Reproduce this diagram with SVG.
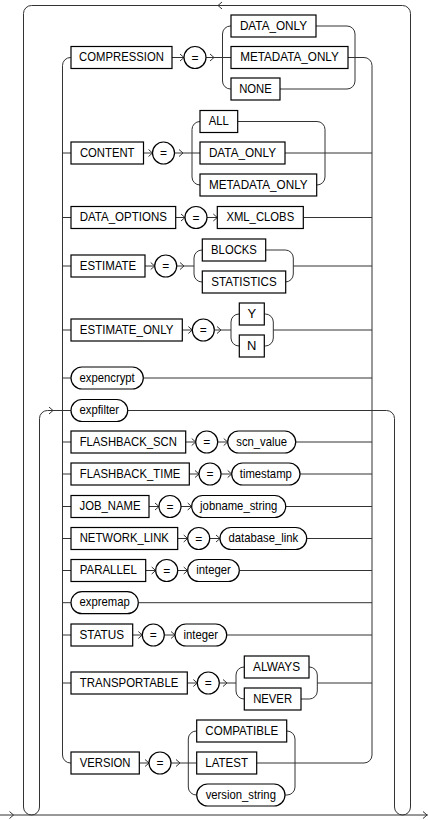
<svg xmlns="http://www.w3.org/2000/svg" xmlns:xlink="http://www.w3.org/1999/xlink" width="428" height="820" viewBox="0 0 428 820">
<style>
.c path,.c use{fill:none;stroke:#333;stroke-width:1}
.n rect,.n circle{fill:#fff;stroke:#000;stroke-width:1.2}
.n text{font-family:"Liberation Sans",Arial,sans-serif;font-size:13px;fill:#000;text-anchor:middle}
.n text.e{font-size:12px}
</style>
<defs>
<path id="a" d="M-4 -3.5L0 0L-4 3.5"/>
</defs>
<rect width="428" height="820" fill="#fff"/>
<g id="connectors" class="c">
<path d="M0 815H428"/>
<path d="M71 410.5H47.5A8 8 0 0 0 39.5 418.5V807A8 8 0 0 1 23.5 807V13.5A8 8 0 0 1 31.5 5.5H402.5A8 8 0 0 1 410.5 13.5V807A8 8 0 0 1 394.5 807V418.5A8 8 0 0 0 386.5 410.5H127.7"/>
<path d="M222 2L218 5.5L222 9"/>
<path d="M71 57.5H70.5A8 8 0 0 0 62.5 65.5V755A8 8 0 0 0 70.5 763H71"/>
<path d="M62.5 153H71M62.5 217.5H71M62.5 266H71M62.5 330H71M62.5 378H71M62.5 442H71M62.5 474H71M62.5 506.5H71M62.5 538.5H71M62.5 570.5H71M62.5 602.7H71M62.5 635H71M62.5 683H71"/>
<path d="M348 57.5H364A8 8 0 0 1 372 65.5V755A8 8 0 0 1 364 763H256.7"/>
<path d="M172 57.5H184M206 57.5H231M231 26H230.5A8 8 0 0 0 222.5 34V81A8 8 0 0 0 230.5 89H231M316 26H347A8 8 0 0 1 355 34V81A8 8 0 0 1 347 89H280"/>
<path d="M143.5 153H152.5M174.5 153H200M200 121.5A8 8 0 0 0 192 129.5V177A8 8 0 0 0 200 185M237.7 121.5H317A8 8 0 0 1 325 129.5V177A8 8 0 0 1 317 185H316.7M285 153H372"/>
<path d="M175.7 217.5H185M207 217.5H217.3M303.3 217.5H372"/>
<path d="M145 266H154.7M176.7 266H194M202.3 250H202A8 8 0 0 0 194 258V274A8 8 0 0 0 202 282H202.3M265.7 250H285.3A8 8 0 0 1 293.3 258V274A8 8 0 0 1 285.3 282H285.7M293.3 266H372"/>
<path d="M182.3 330H192.3M214.3 330H231M239.3 314H239A8 8 0 0 0 231 322V338A8 8 0 0 0 239 346H239.3M264.3 314H265.3A8 8 0 0 1 273.3 322V338A8 8 0 0 1 265.3 346H264.3M273.3 330H372"/>
<path d="M143.3 378H372"/>
<path d="M185.7 442H195.7M217.7 442H227.7M295.7 442H372"/>
<path d="M189.3 474H199M221 474H231.7M300 474H372"/>
<path d="M149 506.5H159M181 506.5H191.7M285.7 506.5H372"/>
<path d="M177.7 538.5H187.7M209.7 538.5H220M306.7 538.5H372"/>
<path d="M145.7 570.5H155.7M177.7 570.5H187.7M239.3 570.5H372"/>
<path d="M138.3 602.7H372"/>
<path d="M132.7 635H142.3M164.3 635H175M226.7 635H372"/>
<path d="M187.3 683H197.3M219.3 683H236M244.3 667H244A8 8 0 0 0 236 675V691A8 8 0 0 0 244 699H244.3M309 667H309.3A8 8 0 0 1 317.3 675V691A8 8 0 0 1 309.3 699H301M317.3 683H372"/>
<path d="M139.3 763H149M171 763H196.7M196.7 731H196.3A8 8 0 0 0 188.3 739V787A8 8 0 0 0 196.3 795H196.7M286.7 731H287A8 8 0 0 1 295 739V787A8 8 0 0 1 287 795H285"/>
<use xlink:href="#a" x="13.5" y="815"/>
<use xlink:href="#a" x="427" y="815"/>
<use xlink:href="#a" x="53" y="410.5"/>
<use xlink:href="#a" x="184" y="57.5"/><use xlink:href="#a" x="214" y="57.5"/>
<use xlink:href="#a" x="152.5" y="153"/><use xlink:href="#a" x="183" y="153"/>
<use xlink:href="#a" x="185" y="217.5"/><use xlink:href="#a" x="217.3" y="217.5"/>
<use xlink:href="#a" x="154.7" y="266"/><use xlink:href="#a" x="184" y="266"/>
<use xlink:href="#a" x="192.3" y="330"/><use xlink:href="#a" x="221" y="330"/>
<use xlink:href="#a" x="195.7" y="442"/><use xlink:href="#a" x="227.7" y="442"/>
<use xlink:href="#a" x="199" y="474"/><use xlink:href="#a" x="231.7" y="474"/>
<use xlink:href="#a" x="159" y="506.5"/><use xlink:href="#a" x="191.7" y="506.5"/>
<use xlink:href="#a" x="187.7" y="538.5"/><use xlink:href="#a" x="220" y="538.5"/>
<use xlink:href="#a" x="155.7" y="570.5"/><use xlink:href="#a" x="187.7" y="570.5"/>
<use xlink:href="#a" x="142.3" y="635"/><use xlink:href="#a" x="175" y="635"/>
<use xlink:href="#a" x="197.3" y="683"/><use xlink:href="#a" x="227" y="683"/>
<use xlink:href="#a" x="149" y="763"/><use xlink:href="#a" x="180" y="763"/>
</g>
<g class="n">
<g id="compression"><rect x="71" y="46.5" width="101" height="22"/><text x="121.5" y="61" textLength="84.8" lengthAdjust="spacingAndGlyphs">COMPRESSION</text></g>
<g id="eq1"><circle cx="195" cy="57.5" r="11"/><text class="e" x="195" y="61.5">=</text></g>
<g id="comp_data_only"><rect x="231" y="15" width="85" height="22"/><text x="273.5" y="29.5" textLength="67.2" lengthAdjust="spacingAndGlyphs">DATA_ONLY</text></g>
<g id="comp_metadata_only"><rect x="231" y="46.5" width="117" height="22"/><text x="289.5" y="61" textLength="98.6" lengthAdjust="spacingAndGlyphs">METADATA_ONLY</text></g>
<g id="comp_none"><rect x="231" y="78" width="49" height="22"/><text x="255.5" y="92.5" textLength="32.6" lengthAdjust="spacingAndGlyphs">NONE</text></g>

<g id="content"><rect x="71" y="142" width="72.5" height="22"/><text x="107.2" y="156.5" textLength="54.6" lengthAdjust="spacingAndGlyphs">CONTENT</text></g>
<g id="eq2"><circle cx="163.5" cy="153" r="11"/><text class="e" x="163.5" y="157">=</text></g>
<g id="cont_all"><rect x="200" y="110.5" width="37.7" height="22"/><text x="218.8" y="125" textLength="20.1" lengthAdjust="spacingAndGlyphs">ALL</text></g>
<g id="cont_data_only"><rect x="200" y="142" width="85" height="22"/><text x="242.5" y="156.5" textLength="67.2" lengthAdjust="spacingAndGlyphs">DATA_ONLY</text></g>
<g id="cont_metadata_only"><rect x="200" y="174" width="116.7" height="22"/><text x="258.3" y="188.5" textLength="98.6" lengthAdjust="spacingAndGlyphs">METADATA_ONLY</text></g>

<g id="data_options"><rect x="71" y="206.5" width="104.7" height="22"/><text x="123.3" y="221" textLength="87.3" lengthAdjust="spacingAndGlyphs">DATA_OPTIONS</text></g>
<g id="eq3"><circle cx="196" cy="217.5" r="11"/><text class="e" x="196" y="221.5">=</text></g>
<g id="xml_clobs"><rect x="217.3" y="206.5" width="86" height="22"/><text x="260.3" y="221" textLength="67.8" lengthAdjust="spacingAndGlyphs">XML_CLOBS</text></g>

<g id="estimate"><rect x="71" y="255" width="74" height="22"/><text x="108" y="269.5" textLength="56.5" lengthAdjust="spacingAndGlyphs">ESTIMATE</text></g>
<g id="eq4"><circle cx="165.7" cy="266" r="11"/><text class="e" x="165.7" y="270">=</text></g>
<g id="blocks"><rect x="202.3" y="239" width="63.4" height="22"/><text x="234" y="253.5" textLength="45.8" lengthAdjust="spacingAndGlyphs">BLOCKS</text></g>
<g id="statistics"><rect x="202.3" y="271" width="83.4" height="22"/><text x="244" y="285.5" textLength="65.3" lengthAdjust="spacingAndGlyphs">STATISTICS</text></g>

<g id="estimate_only"><rect x="71" y="319" width="111.3" height="22"/><text x="126.6" y="333.5" textLength="93.6" lengthAdjust="spacingAndGlyphs">ESTIMATE_ONLY</text></g>
<g id="eq5"><circle cx="203.3" cy="330" r="11"/><text class="e" x="203.3" y="334">=</text></g>
<g id="y"><rect x="239.3" y="303" width="25" height="22"/><text x="251.8" y="317.5">Y</text></g>
<g id="n"><rect x="239.3" y="335" width="25" height="22"/><text x="251.8" y="349.5">N</text></g>

<g id="expencrypt"><rect x="71" y="367" width="72.3" height="22" rx="11"/><text x="107.1" y="381.5" textLength="55.3" lengthAdjust="spacingAndGlyphs">expencrypt</text></g>
<g id="expfilter"><rect x="71" y="399.5" width="56.7" height="22" rx="11"/><text x="99.3" y="414" textLength="39.6" lengthAdjust="spacingAndGlyphs">expfilter</text></g>

<g id="flashback_scn"><rect x="71" y="431" width="114.7" height="22"/><text x="128.3" y="445.5" textLength="97.3" lengthAdjust="spacingAndGlyphs">FLASHBACK_SCN</text></g>
<g id="eq6"><circle cx="206.7" cy="442" r="11"/><text class="e" x="206.7" y="446">=</text></g>
<g id="scn_value"><rect x="227.7" y="431" width="68" height="22" rx="11"/><text x="261.7" y="445.5" textLength="50.9" lengthAdjust="spacingAndGlyphs">scn_value</text></g>

<g id="flashback_time"><rect x="71" y="463" width="118.3" height="22"/><text x="130.1" y="477.5" textLength="100.5" lengthAdjust="spacingAndGlyphs">FLASHBACK_TIME</text></g>
<g id="eq7"><circle cx="210" cy="474" r="11"/><text class="e" x="210" y="478">=</text></g>
<g id="timestamp"><rect x="231.7" y="463" width="68.3" height="22" rx="11"/><text x="265.8" y="477.5" textLength="52.1" lengthAdjust="spacingAndGlyphs">timestamp</text></g>

<g id="job_name"><rect x="71" y="495.5" width="78" height="22"/><text x="110" y="510" textLength="60.9" lengthAdjust="spacingAndGlyphs">JOB_NAME</text></g>
<g id="eq8"><circle cx="170" cy="506.5" r="11"/><text class="e" x="170" y="510.5">=</text></g>
<g id="jobname_string"><rect x="191.7" y="495.5" width="94" height="22" rx="11"/><text x="238.7" y="510" textLength="77.2" lengthAdjust="spacingAndGlyphs">jobname_string</text></g>

<g id="network_link"><rect x="71" y="527.5" width="106.7" height="22"/><text x="124.3" y="542" textLength="89.2" lengthAdjust="spacingAndGlyphs">NETWORK_LINK</text></g>
<g id="eq9"><circle cx="198.7" cy="538.5" r="11"/><text class="e" x="198.7" y="542.5">=</text></g>
<g id="database_link"><rect x="220" y="527.5" width="86.7" height="22" rx="11"/><text x="263.3" y="542" textLength="69.7" lengthAdjust="spacingAndGlyphs">database_link</text></g>

<g id="parallel"><rect x="71" y="559.5" width="74.7" height="22"/><text x="108.3" y="574" textLength="57.2" lengthAdjust="spacingAndGlyphs">PARALLEL</text></g>
<g id="eq10"><circle cx="166.7" cy="570.5" r="11"/><text class="e" x="166.7" y="574.5">=</text></g>
<g id="integer1"><rect x="187.7" y="559.5" width="51.6" height="22" rx="11"/><text x="213.5" y="574" textLength="34.5" lengthAdjust="spacingAndGlyphs">integer</text></g>

<g id="expremap"><rect x="71" y="591.7" width="67.3" height="22" rx="11"/><text x="104.6" y="606.2" textLength="50.2" lengthAdjust="spacingAndGlyphs">expremap</text></g>

<g id="status"><rect x="71" y="624" width="61.7" height="22"/><text x="101.8" y="638.5" textLength="44.6" lengthAdjust="spacingAndGlyphs">STATUS</text></g>
<g id="eq11"><circle cx="153.3" cy="635" r="11"/><text class="e" x="153.3" y="639">=</text></g>
<g id="integer2"><rect x="175" y="624" width="51.7" height="22" rx="11"/><text x="200.8" y="638.5" textLength="34.5" lengthAdjust="spacingAndGlyphs">integer</text></g>

<g id="transportable"><rect x="71" y="672" width="116.3" height="22"/><text x="129.1" y="686.5" textLength="98.6" lengthAdjust="spacingAndGlyphs">TRANSPORTABLE</text></g>
<g id="eq12"><circle cx="208.3" cy="683" r="11"/><text class="e" x="208.3" y="687">=</text></g>
<g id="always"><rect x="244.3" y="656" width="64.7" height="22"/><text x="276.6" y="670.5" textLength="47.1" lengthAdjust="spacingAndGlyphs">ALWAYS</text></g>
<g id="never"><rect x="244.3" y="688" width="56.7" height="22"/><text x="272.6" y="702.5" textLength="38.9" lengthAdjust="spacingAndGlyphs">NEVER</text></g>

<g id="version"><rect x="71" y="752" width="68.3" height="22"/><text x="105.1" y="766.5" textLength="50.9" lengthAdjust="spacingAndGlyphs">VERSION</text></g>
<g id="eq13"><circle cx="160" cy="763" r="11"/><text class="e" x="160" y="767">=</text></g>
<g id="compatible"><rect x="196.7" y="720" width="90" height="22"/><text x="241.7" y="734.5" textLength="72.8" lengthAdjust="spacingAndGlyphs">COMPATIBLE</text></g>
<g id="latest"><rect x="196.7" y="752" width="60" height="22"/><text x="226.7" y="766.5" textLength="42.7" lengthAdjust="spacingAndGlyphs">LATEST</text></g>
<g id="version_string"><rect x="196.7" y="784" width="88.3" height="22" rx="11"/><text x="240.8" y="798.5" textLength="70.3" lengthAdjust="spacingAndGlyphs">version_string</text></g>
</g>
</svg>
